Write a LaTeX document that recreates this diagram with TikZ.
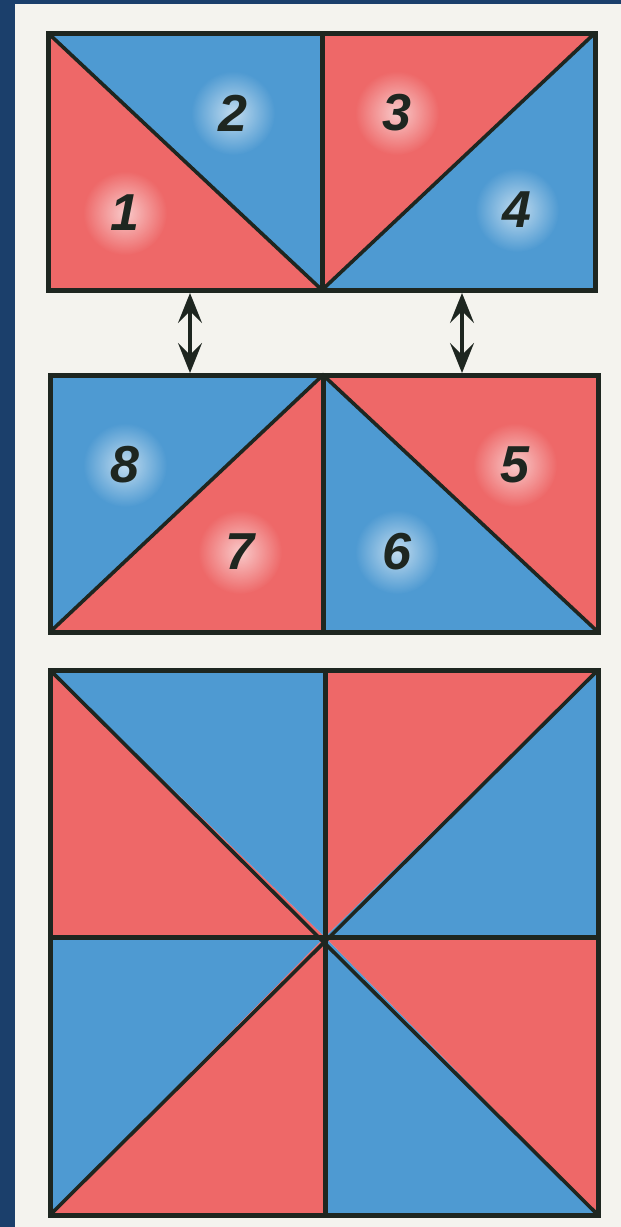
\documentclass[tikz,border=0pt]{standalone}
\usepackage{fontspec}
\setsansfont{Liberation Sans}
\usetikzlibrary{arrows.meta,fadings}
\definecolor{frameblue}{HTML}{1B3F6B}
\definecolor{paper}{HTML}{F4F3EE}
\definecolor{pred}{HTML}{EE6868}
\definecolor{pblue}{HTML}{4E9AD2}
\definecolor{ink}{HTML}{1E2620}
\tikzfading[name=softglow, inner color=transparent!35, outer color=transparent!100]
\tikzset{
  redtri/.style={fill=pred},
  bluetri/.style={fill=pblue},
  edge/.style={draw=ink,line width=5pt,line join=miter},
  diag/.style={draw=ink,line width=3.6pt,line cap=round},
  num/.style={font=\sffamily\bfseries\itshape\fontsize{52}{52}\selectfont,text=ink,inner sep=0pt},
  glow/.style={fill=white,path fading=softglow},
  dblarrow/.style={draw=ink,line width=3.2pt,{Stealth[length=30pt,width=24pt,inset=12pt]}-{Stealth[length=30pt,width=24pt,inset=12pt]}}
}
\begin{document}
\begin{tikzpicture}[x=1pt,y=-1pt]
\useasboundingbox (0,0) rectangle (621,1227);
\fill[paper] (0,0) rectangle (621,1227);
\fill[frameblue] (0,0) rectangle (621,4);
\fill[frameblue] (0,0) rectangle (15,1227);
% ---------- top rectangle ----------
\coordinate (TA) at (48,33); \coordinate (TB) at (322,33); \coordinate (TC) at (595,33);
\coordinate (TD) at (48,290); \coordinate (TE) at (322,290); \coordinate (TF) at (595,290);
\fill[redtri] (TA) -- (TD) -- (TE) -- cycle;
\fill[bluetri] (TA) -- (TB) -- (TE) -- cycle;
\fill[redtri] (TB) -- (TC) -- (TE) -- cycle;
\fill[bluetri] (TC) -- (TF) -- (TE) -- cycle;
\draw[diag] (TA) -- (TE) -- (TC);
\draw[edge] (TB) -- (TE);
\draw[edge] (TA) rectangle (TF);
% ---------- middle rectangle ----------
\coordinate (MA) at (50,375); \coordinate (MB) at (323,375); \coordinate (MC) at (598,375);
\coordinate (MD) at (50,632); \coordinate (ME) at (323,632); \coordinate (MF) at (598,632);
\fill[bluetri] (MA) -- (MB) -- (MD) -- cycle;
\fill[redtri] (MB) -- (ME) -- (MD) -- cycle;
\fill[bluetri] (MB) -- (ME) -- (MF) -- cycle;
\fill[redtri] (MB) -- (MC) -- (MF) -- cycle;
\draw[diag] (MD) -- (MB) -- (MF);
\draw[edge] (MB) -- (ME);
\draw[edge] (MA) rectangle (MF);
% ---------- labels ----------
\foreach \n/\x/\y in {1/125/213, 2/233/113, 3/397/113, 4/517/210, 8/125/465, 7/240/552, 6/397/552, 5/515/465}{
  \fill[glow] (\x,\y) circle (42);
}
\node[num] (n1) at (125,213) {1};
\node[num] (n2) at (233,113) {2};
\node[num] (n3) at (397,113) {3};
\node[num] (n4) at (517,210) {4};
\node[num] (n8) at (125,465) {8};
\node[num] (n7) at (240,552) {7};
\node[num] (n6) at (397,552) {6};
\node[num] (n5) at (515,465) {5};
% ---------- arrows ----------
\coordinate (a1t) at (190,293); \coordinate (a1b) at (190,373);
\coordinate (a2t) at (462,293); \coordinate (a2b) at (462,373);
\draw[dblarrow] (a1t) -- (a1b);
\draw[dblarrow] (a2t) -- (a2b);
% ---------- bottom square ----------
\coordinate (BA) at (50,670); \coordinate (BB) at (325,670); \coordinate (BC) at (598,670);
\coordinate (BD) at (50,937); \coordinate (BE) at (325,937); \coordinate (BF) at (598,937);
\coordinate (BG) at (50,1215); \coordinate (BH) at (325,1215); \coordinate (BI) at (598,1215);
\fill[redtri] (BA) -- (BD) -- (BE) -- cycle;
\fill[bluetri] (BA) -- (BB) -- (BE) -- cycle;
\fill[redtri] (BB) -- (BC) -- (BE) -- cycle;
\fill[bluetri] (BC) -- (BF) -- (BE) -- cycle;
\fill[bluetri] (BD) -- (BE) -- (BG) -- cycle;
\fill[redtri] (BE) -- (BH) -- (BG) -- cycle;
\fill[bluetri] (BE) -- (BH) -- (BI) -- cycle;
\fill[redtri] (BE) -- (BF) -- (BI) -- cycle;
\draw[diag] (BA) -- (BI);
\draw[diag] (BC) -- (BG);
\draw[edge] (BB) -- (BH);
\draw[edge] (BD) -- (BF);
\draw[edge] (BA) rectangle (BI);
\end{tikzpicture}
\end{document}
